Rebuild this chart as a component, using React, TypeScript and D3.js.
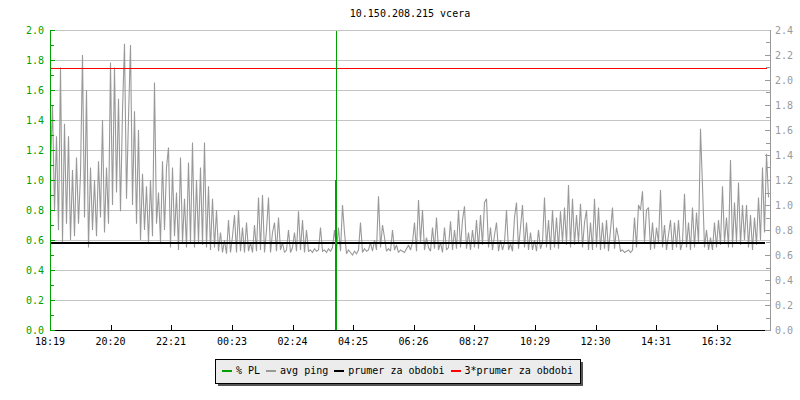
import React from "react";
import * as d3 from "d3";

// ---- data ----
const title = "10.150.208.215 vcera";
const xTickLabels = ["18:19", "20:20", "22:21", "00:23", "02:24", "04:25", "06:26", "08:27", "10:29", "12:30", "14:31", "16:32"];
const xTickMinutes = [0, 121, 242, 364, 485, 606, 727, 848, 970, 1091, 1212, 1333];
const leftTicks = [0, 0.2, 0.4, 0.6, 0.8, 1.0, 1.2, 1.4, 1.6, 1.8, 2.0];
const rightTicks = [0, 0.2, 0.4, 0.6, 0.8, 1.0, 1.2, 1.4, 1.6, 1.8, 2.0, 2.2, 2.4];
const legendLabels = ["% PL", "avg ping", "prumer za obdobi", "3*prumer za obdobi"];

// avg ping samples (ms), one every 4 minutes from 18:19
const avgPing = [
  1.30, 1.80, 0.95, 1.55, 0.80, 2.10, 0.70, 1.65, 0.85, 1.55,
  0.72, 1.28, 0.75, 1.38, 0.85, 1.25, 2.20, 0.90, 1.92, 0.66,
  1.30, 0.80, 1.20, 0.75, 1.35, 0.90, 1.68, 0.78, 1.30, 0.85,
  2.14, 1.00, 2.10, 1.10, 1.85, 0.95, 1.75, 2.29, 1.05, 1.70,
  2.28, 1.00, 1.75, 0.85, 1.60, 0.72, 1.25, 0.80, 1.15, 0.70,
  1.20, 0.75, 1.98, 0.85, 1.10, 0.70, 1.35, 0.80, 1.30, 1.46,
  0.66, 1.30, 0.75, 1.10, 0.64, 1.38, 0.70, 1.05, 0.66, 1.34,
  0.70, 1.50, 0.66, 1.20, 0.70, 1.30, 0.68, 1.50, 0.66, 1.15,
  0.64, 1.05, 0.66, 0.96, 0.63, 0.78, 0.62, 0.72, 0.61, 0.88,
  0.62, 0.75, 0.92, 0.62, 0.96, 0.63, 0.82, 0.62, 0.86, 0.63,
  0.70, 0.62, 0.84, 0.63, 1.06, 0.64, 1.08, 0.62, 0.80, 1.06,
  0.62, 0.78, 0.86, 0.63, 0.90, 0.64, 0.70, 0.62, 0.64, 0.80,
  0.62, 0.66, 0.78, 0.63, 0.95, 0.64, 0.88, 0.62, 0.80, 0.63,
  0.64, 0.62, 0.65, 0.63, 0.64, 0.82, 0.63, 0.64, 0.62, 0.65,
  0.63, 0.66, 0.80, 0.64, 0.82, 0.63, 1.00, 0.78, 0.61, 0.64,
  0.62, 0.60, 0.63, 0.61, 0.64, 0.86, 0.62, 0.65, 0.63, 0.64,
  0.70, 0.63, 0.72, 0.64, 1.07, 0.66, 0.84, 0.74, 0.63, 0.65,
  0.63, 0.80, 0.64, 0.68, 0.62, 0.64, 0.63, 0.62, 0.65, 0.68,
  0.64, 0.70, 0.86, 0.63, 1.04, 0.70, 0.96, 0.64, 0.74, 0.66,
  0.63, 0.82, 0.65, 0.90, 0.64, 0.70, 0.62, 0.82, 0.64, 0.66,
  0.87, 0.64, 0.80, 0.65, 0.96, 0.66, 0.88, 0.99, 0.65, 0.78,
  0.64, 0.80, 0.66, 0.88, 0.65, 0.92, 0.68, 1.02, 1.05, 0.66,
  0.82, 0.64, 0.76, 0.86, 0.63, 0.72, 0.64, 0.70, 0.96, 0.64,
  0.69, 0.63, 0.90, 1.02, 0.65, 0.82, 1.00, 0.66, 0.86, 0.64,
  0.78, 0.64, 0.72, 0.63, 0.80, 0.65, 0.70, 1.06, 0.66, 0.88,
  0.64, 0.96, 0.66, 0.90, 0.65, 0.95, 0.70, 0.98, 0.68, 1.16,
  0.66, 1.05, 0.68, 0.92, 0.70, 1.01, 0.66, 0.86, 0.96, 0.64,
  0.86, 0.64, 1.05, 0.66, 0.98, 0.64, 0.86, 0.65, 0.88, 0.63,
  0.80, 0.98, 0.65, 0.82, 0.74, 0.63, 0.64, 0.62, 0.63, 0.64,
  0.62, 0.64, 0.90, 0.66, 1.00, 0.96, 1.11, 0.70, 0.96, 0.98,
  0.64, 0.86, 0.65, 0.82, 0.70, 1.12, 0.66, 0.84, 0.64, 0.76,
  0.88, 0.64, 0.86, 0.66, 0.88, 0.64, 0.70, 1.09, 0.66, 0.86,
  0.64, 0.98, 0.66, 0.94, 0.70, 1.61, 1.15, 0.66, 0.80, 0.64,
  0.74, 0.64, 0.86, 0.66, 0.88, 0.68, 1.15, 0.70, 0.90, 0.66,
  1.36, 0.66, 1.02, 0.70, 1.18, 0.68, 1.00, 0.72, 1.00, 0.66,
  0.92, 0.64, 0.90, 0.68, 1.06, 0.72, 1.30, 0.78, 1.41, 1.06,
];
const pingStepMinutes = 4;
const periodAverage = 0.698; // prumer za obdobi (ms)
const plMinute = 572; // packet loss event
const plValue = 1.0;
const plMarker = 2.0;

// ---- layout ----
const W = 800, H = 400;
const L = 50, R = 770, T = 30, B = 330;
const FONT = "'DejaVu Sans Mono', monospace";
const GREEN = "#00a000";
const GREY = "#999999";
const GRID = "#c4c4c4";

export default function App() {
  const x = d3.scaleLinear().domain([0, 1440]).range([L, R]);
  const yL = d3.scaleLinear().domain([0, 2]).range([B, T]);
  const yR = d3.scaleLinear().domain([0, 2.4]).range([B, T]);

  const line = d3
    .line<number>()
    .x((_, i) => x(i * pingStepMinutes) + 0.5)
    .y((d) => yR(d));

  const leftMinor = d3.range(0, 2.0001, 0.1);
  const rightMinor = d3.range(0, 2.4001, 0.1);
  const fmt = d3.format(".1f");

  // legend layout
  const charW = 6.02;
  const legendColors = [GREEN, GREY, "#000", "#ff0000"];
  let cx = 222;
  const legendItems = legendLabels.map((lab, i) => {
    const sx = cx;
    const tx = sx + 14;
    cx = tx + lab.length * charW + 6;
    return { lab, sx, tx, color: legendColors[i] };
  });
  const legendX0 = 215, legendX1 = 580, legendY0 = 359, legendY1 = 383;

  return (
    <svg
      width={W}
      height={H}
      style={{ position: "absolute", left: 0, top: 0, background: "#fff" }}
      fontFamily={FONT}
      fontSize={10}
    >
      <rect x={0} y={0} width={W} height={H} fill="#fff" />
      <text x={(L + R) / 2} y={17} textAnchor="middle" fill="#000">
        {title}
      </text>

      {/* grid */}
      <g shapeRendering="crispEdges">
        {leftTicks.filter((v) => v > 0).map((v) => (
          <line key={v} x1={L + 5} x2={R} y1={Math.round(yL(v)) + 0.5} y2={Math.round(yL(v)) + 0.5} stroke={GRID} />
        ))}
      </g>

      {/* avg ping */}
      <path d={line(avgPing) || ""} fill="none" stroke={GREY} strokeWidth={1.1} strokeLinejoin="miter" strokeMiterlimit={2} />

      {/* period average lines */}
      <g shapeRendering="crispEdges">
        <line x1={L} x2={R - 5} y1={Math.round(yR(periodAverage))} y2={Math.round(yR(periodAverage))} stroke="#000" strokeWidth={2} />
        <line x1={L + 1} x2={R - 3} y1={Math.round(yR(3 * periodAverage)) + 0.5} y2={Math.round(yR(3 * periodAverage)) + 0.5} stroke="#ff0000" strokeWidth={1} />
      </g>

      {/* % PL */}
      <g shapeRendering="crispEdges">
        <line x1={Math.round(x(plMinute)) + 0.5} x2={Math.round(x(plMinute)) + 0.5} y1={yL(plMarker)} y2={B} stroke={GREEN} strokeWidth={1} />
        <rect x={Math.round(x(plMinute)) - 1} y={yL(plValue)} width={2} height={B - yL(plValue)} fill={GREEN} />
      </g>

      {/* x axis */}
      <g shapeRendering="crispEdges">
        <line x1={L} x2={R - 5} y1={B + 0.5} y2={B + 0.5} stroke="#000" />
        {xTickMinutes.map((m, i) => (
          <line key={i} x1={Math.round(x(m)) + 0.5} x2={Math.round(x(m)) + 0.5} y1={B} y2={B - 5} stroke="#000" />
        ))}
      </g>
      {xTickMinutes.map((m, i) => (
        <text key={i} x={x(m)} y={345} textAnchor="middle" fill="#000">
          {xTickLabels[i]}
        </text>
      ))}

      {/* left axis */}
      <g shapeRendering="crispEdges">
        <line x1={L + 0.5} x2={L + 0.5} y1={T} y2={B + 1} stroke={GREEN} />
        {leftMinor.map((v, i) => (
          <line key={i} x1={L} x2={L + (i % 2 === 0 ? 5 : 4)} y1={Math.round(yL(v)) + 0.5} y2={Math.round(yL(v)) + 0.5} stroke={GREEN} />
        ))}
      </g>
      {leftTicks.map((v) => (
        <text key={v} x={44} y={yL(v) + 3.5} textAnchor="end" fill={GREEN}>
          {fmt(v)}
        </text>
      ))}

      {/* right axis */}
      <g shapeRendering="crispEdges">
        <line x1={R + 0.5} x2={R + 0.5} y1={T} y2={B + 1} stroke={GREY} />
        {rightMinor.map((v, i) => (
          <line key={i} x1={R - (i % 2 === 0 ? 5 : 4)} x2={R + 1} y1={Math.round(yR(v)) + 0.5} y2={Math.round(yR(v)) + 0.5} stroke={GREY} />
        ))}
        <line x1={L + 5} x2={R} y1={T + 0.5} y2={T + 0.5} stroke={GRID} />
      </g>
      {rightTicks.map((v) => (
        <text key={v} x={775} y={yR(v) + 3.5} textAnchor="start" fill="#999">
          {fmt(v)}
        </text>
      ))}

      {/* legend */}
      <g shapeRendering="crispEdges">
        <rect x={legendX0 + 3} y={legendY0 + 3} width={legendX1 - legendX0} height={legendY1 - legendY0} fill="#555" />
        <rect x={legendX0 + 0.5} y={legendY0 + 0.5} width={legendX1 - legendX0} height={legendY1 - legendY0} fill="#ececec" stroke="#000" />
        {legendItems.map((it, i) => (
          <line key={i} x1={it.sx} x2={it.sx + 10} y1={371} y2={371} stroke={it.color} strokeWidth={2} />
        ))}
      </g>
      {legendItems.map((it, i) => (
        <text key={i} x={it.tx} y={374} fill="#000">
          {it.lab}
        </text>
      ))}
    </svg>
  );
}
